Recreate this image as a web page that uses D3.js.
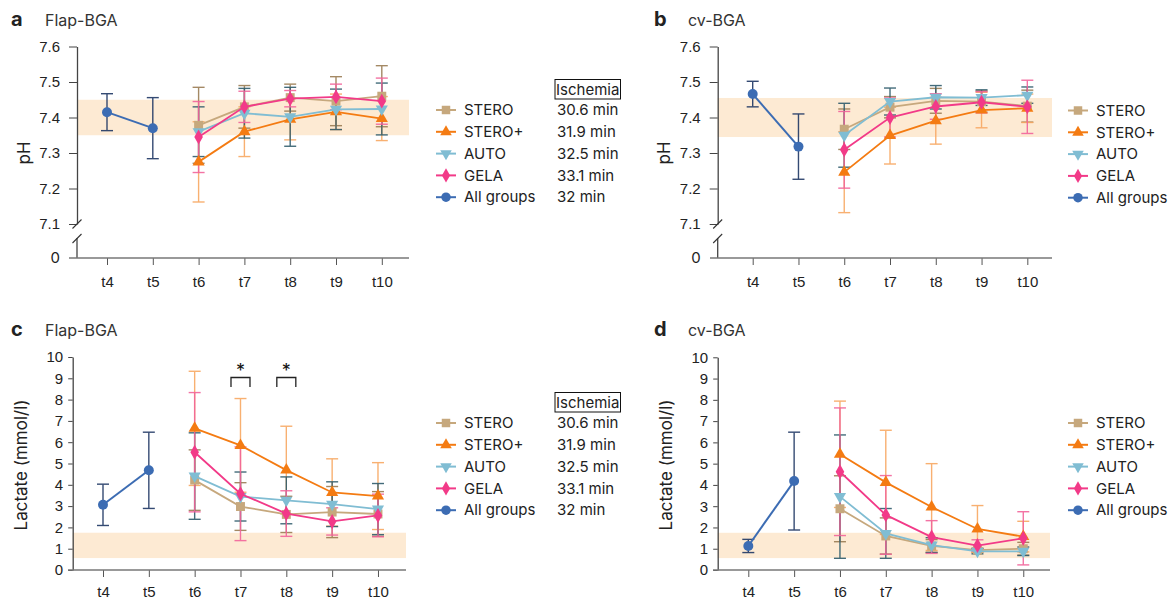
<!DOCTYPE html>
<html>
<head>
<meta charset="utf-8">
<script src="https://cdn.jsdelivr.net/npm/d3@7"></script>
<style>
  body { margin: 0; background: #fff; }
  svg { display: block; font-family: Inter, "Noto Sans", sans-serif; }
</style>
</head>
<body>
<svg id="chart" width="1172" height="604"></svg>
<script>
/* data */
var timepoints = ["t4", "t5", "t6", "t7", "t8", "t9", "t10"];
var groups = ["STERO", "STERO+", "AUTO", "GELA", "All groups"];
var ischemia = ["30.6 min", "31.9 min", "32.5 min", "33.1 min", "32 min"];

// pH, flap blood gas (rows follow groups, columns follow timepoints)
var phFlapMean = [
  [null, null, 7.378, 7.430, 7.456, 7.446, 7.460],
  [null, null, 7.275, 7.360, 7.395, 7.416, 7.397],
  [null, null, 7.360, 7.412, 7.402, 7.423, 7.424],
  [null, null, 7.345, 7.430, 7.453, 7.458, 7.446],
  [7.415, 7.370, null, null, null, null, null]
];
var phFlapSd = [
  [0, 0, 0.107, 0.060, 0.038, 0.069, 0.086],
  [0, 0, 0.113, 0.070, 0.058, 0.050, 0.062],
  [0, 0, 0.070, 0.070, 0.083, 0.057, 0.073],
  [0, 0, 0.100, 0.044, 0.023, 0.036, 0.065],
  [0.052, 0.086, 0, 0, 0, 0, 0]
];

// pH, central venous blood gas
var phCvMean = [
  [null, null, 7.367, 7.429, 7.447, 7.445, 7.432],
  [null, null, 7.246, 7.349, 7.391, 7.421, 7.426],
  [null, null, 7.350, 7.445, 7.457, 7.456, 7.463],
  [null, null, 7.309, 7.400, 7.431, 7.443, 7.430],
  [7.466, 7.318, null, null, null, null, null]
];
var phCvSd = [
  [0, 0, 0.057, 0.030, 0.035, 0.030, 0.045],
  [0, 0, 0.114, 0.080, 0.066, 0.050, 0.040],
  [0, 0, 0.090, 0.038, 0.033, 0.022, 0.023],
  [0, 0, 0.108, 0.055, 0.036, 0.030, 0.075],
  [0.036, 0.092, 0, 0, 0, 0, 0]
];

// lactate, flap
var lacFlapMean = [
  [null, null, 4.22, 2.98, 2.61, 2.72, 2.63],
  [null, null, 6.65, 5.85, 4.69, 3.64, 3.47],
  [null, null, 4.41, 3.45, 3.27, 3.09, 2.86],
  [null, null, 5.53, 3.58, 2.65, 2.28, 2.56],
  [3.06, 4.68, null, null, null, null, null]
];
var lacFlapSd = [
  [0, 0, 1.42, 1.12, 0.85, 1.20, 1.05],
  [0, 0, 2.68, 2.20, 2.06, 1.58, 1.57],
  [0, 0, 2.03, 1.15, 1.10, 1.05, 1.20],
  [0, 0, 2.80, 2.20, 1.07, 0.64, 1.00],
  [0.97, 1.79, 0, 0, 0, 0, 0]
];

// lactate, central venous
var lacCvMean = [
  [null, null, 2.88, 1.60, 1.13, 0.93, 1.00],
  [null, null, 5.44, 4.12, 2.96, 1.93, 1.57],
  [null, null, 3.45, 1.72, 1.17, 0.88, 0.88],
  [null, null, 4.62, 2.59, 1.55, 1.15, 1.49],
  [1.13, 4.18, null, null, null, null, null]
];
var lacCvSd = [
  [0, 0, 1.55, 0.85, 0.30, 0.10, 0.30],
  [0, 0, 2.50, 2.45, 2.04, 1.10, 0.72],
  [0, 0, 2.90, 1.17, 0.35, 0.12, 0.20],
  [0, 0, 3.00, 1.85, 0.77, 0.27, 1.25],
  [0.31, 2.30, 0, 0, 0, 0, 0]
];

// reference ranges (shaded)
var phBandFlap = [7.35, 7.45];
var phBandCv = [7.345, 7.455];
var lacBand = [0.56, 1.75];
var phTicks = [7.1, 7.2, 7.3, 7.4, 7.5, 7.6];
var lacTicks = [0, 1, 2, 3, 4, 5, 6, 7, 8, 9, 10];
var sigTimes = ["t7", "t8"];

/* styling */
var lineColor = ["#c6a87d", "#f47b12", "#80bdd3", "#f23a88", "#3c6cb3"];
var barColor = ["#9b7d54", "#f8a862", "#2f5c6c", "#f2649b", "#1f3764"];
var shapes = [d3.symbolSquare, d3.symbolTriangle, d3.symbolTriangle, d3.symbolDiamond, d3.symbolCircle];
var shapeSize = [80, 64, 64, 64, 78];
var shapeRot = [0, 0, 180, 0, 0];

var svg = d3.select("#chart");

function drawPanel(p) {
  var g = svg.append("g");
  var x = d3.scalePoint().domain(timepoints).range([p.x0, p.x0 + 6 * p.step]);
  var y = d3.scaleLinear().domain(p.yDomain).range([p.yBottom, p.yTop]);

  // panel letter + title
  g.append("text").attr("x", p.lx).attr("y", p.ty)
    .attr("font-size", 20).attr("font-weight", 700).attr("fill", "#222").text(p.letter);
  g.append("text").attr("x", p.tx).attr("y", p.ty)
    .attr("font-size", 16).attr("fill", "#333").text(p.title);

  // reference band
  g.append("rect")
    .attr("x", p.axisX).attr("width", p.xEnd - p.axisX)
    .attr("y", y(p.band[1])).attr("height", y(p.band[0]) - y(p.band[1]))
    .attr("fill", "#fdead3");

  // y axis
  var yax = g.append("g").attr("transform", "translate(" + p.axisX + ",0)");
  if (p.kind == "ph") {
    yax.call(d3.axisLeft(y).tickValues(d3.range(7.1, 7.6001, 0.02)).tickSize(8).tickSizeOuter(0).tickFormat(""));
    yax.call(d3.axisLeft(y).tickValues(phTicks).tickSize(8).tickSizeOuter(0).tickPadding(9).tickFormat(d3.format(".1f")));
    // broken part down to zero
    g.append("line").attr("x1", p.axisX).attr("x2", p.axisX)
      .attr("y1", p.zeroY - 20).attr("y2", p.zeroY).attr("stroke", "#444").attr("stroke-width", 1.3);
    g.append("line").attr("x1", p.axisX - 4.5).attr("x2", p.axisX + 4.5)
      .attr("y1", y(7.1) + 4.5).attr("y2", y(7.1) - 4.5).attr("stroke", "#333").attr("stroke-width", 1.1);
    g.append("line").attr("x1", p.axisX - 4.5).attr("x2", p.axisX + 4.5)
      .attr("y1", p.zeroY - 15).attr("y2", p.zeroY - 24).attr("stroke", "#333").attr("stroke-width", 1.1);
    g.append("text").attr("x", p.axisX - 17).attr("y", p.zeroY).attr("dy", "0.35em")
      .attr("text-anchor", "end").attr("font-size", 15).attr("fill", "#222").text("0");
  } else {
    yax.call(d3.axisLeft(y).tickValues(lacTicks).tickSize(4.5).tickSizeOuter(0).tickPadding(5));
  }
  yax.select(".domain").attr("stroke", "#444").attr("stroke-width", 1.3);
  yax.selectAll(".tick line").attr("stroke", "#444");
  yax.selectAll(".tick text").attr("font-size", 15).attr("fill", "#222").attr("font-family", null);

  // x axis
  var xax = g.append("g").attr("transform", "translate(0," + p.zeroY + ")")
    .call(d3.axisBottom(x).tickSize(7).tickPadding(p.xPad));
  xax.select(".domain").remove();
  xax.selectAll(".tick line").attr("stroke", "#555");
  xax.selectAll(".tick text").attr("font-size", 15).attr("fill", "#222").attr("font-family", null);
  g.append("line").attr("x1", p.xStart).attr("x2", p.xEnd)
    .attr("y1", p.zeroY).attr("y2", p.zeroY).attr("stroke", "#777").attr("stroke-width", 1.4);

  // y label
  g.append("text")
    .attr("transform", "translate(" + p.ylx + "," + p.yly + ") rotate(-90)")
    .attr("text-anchor", "middle").attr("dy", "0.35em")
    .attr("font-size", 17).attr("fill", "#222").text(p.ylabel);

  // error bars
  groups.forEach(function(name, k) {
    var pts = timepoints.map(function(t, i) { return {t: t, v: p.mean[k][i], s: p.sd[k][i]}; })
      .filter(function(d) { return d.v != null; });
    var eb = g.append("g").attr("stroke", barColor[k]).attr("stroke-width", 1.4).attr("opacity", 0.9);
    pts.forEach(function(d) {
      var cx = x(d.t), lo = y(d.v - d.s), hi = y(d.v + d.s);
      eb.append("line").attr("x1", cx).attr("x2", cx).attr("y1", lo).attr("y2", hi);
      eb.append("line").attr("x1", cx - 6).attr("x2", cx + 6).attr("y1", lo).attr("y2", lo);
      eb.append("line").attr("x1", cx - 6).attr("x2", cx + 6).attr("y1", hi).attr("y2", hi);
    });
  });

  // lines and markers
  groups.forEach(function(name, k) {
    var pts = timepoints.map(function(t, i) { return {t: t, v: p.mean[k][i]}; })
      .filter(function(d) { return d.v != null; });
    g.append("path").datum(pts)
      .attr("fill", "none").attr("stroke", lineColor[k]).attr("stroke-width", k == 4 ? 2 : 1.8)
      .attr("d", d3.line().x(function(d) { return x(d.t); }).y(function(d) { return y(d.v); }));
    g.selectAll(null).data(pts).enter().append("path")
      .attr("d", d3.symbol().type(shapes[k]).size(shapeSize[k]))
      .attr("transform", function(d) { return "translate(" + x(d.t) + "," + y(d.v) + ") rotate(" + shapeRot[k] + ")"; })
      .attr("fill", lineColor[k]);
  });

  // significance brackets
  if (p.sig) {
    p.sig.forEach(function(t) {
      var cx = x(t);
      g.append("path")
        .attr("d", "M" + (cx - 9.5) + "," + (p.sigY + 9.5) + "V" + p.sigY + "H" + (cx + 9.5) + "V" + (p.sigY + 9.5))
        .attr("fill", "none").attr("stroke", "#222").attr("stroke-width", 1.3);
      g.append("text").attr("x", cx).attr("y", p.sigY - 1)
        .attr("text-anchor", "middle").attr("font-size", 18).attr("fill", "#111").text("*");
    });
  }

  // legend
  var lg = g.append("g");
  groups.forEach(function(name, k) {
    var ry = p.legY + k * 21.8;
    lg.append("line").attr("x1", p.legX).attr("x2", p.legX + 20)
      .attr("y1", ry).attr("y2", ry).attr("stroke", lineColor[k]).attr("stroke-width", 2);
    lg.append("path").attr("d", d3.symbol().type(shapes[k]).size(shapeSize[k] * 0.9))
      .attr("transform", "translate(" + (p.legX + 10) + "," + ry + ") rotate(" + shapeRot[k] + ")")
      .attr("fill", lineColor[k]);
    lg.append("text").attr("x", p.legX + 28).attr("y", ry).attr("dy", "0.35em")
      .attr("font-size", 15).attr("fill", "#222").text(name);
    if (p.ischemia) {
      lg.append("text").attr("x", p.legX + 121).attr("y", ry).attr("dy", "0.35em")
        .attr("font-size", 15).attr("fill", "#222").text(ischemia[k]);
    }
  });
  if (p.ischemia) {
    lg.append("rect").attr("x", p.legX + 119).attr("y", p.legY - 30.5)
      .attr("width", 65.5).attr("height", 19.5)
      .attr("fill", "none").attr("stroke", "#111").attr("stroke-width", 1);
    lg.append("text").attr("x", p.legX + 151.7).attr("y", p.legY - 20.7).attr("dy", "0.35em")
      .attr("text-anchor", "middle").attr("font-size", 15).attr("fill", "#222").text("Ischemia");
  }
}

drawPanel({letter: "a", title: "Flap-BGA", lx: 11, tx: 45, ty: 26,
  kind: "ph", yDomain: [7.1, 7.6], yTop: 46.5, yBottom: 224, zeroY: 258,
  axisX: 77, xStart: 69, xEnd: 409, x0: 107, step: 45.8, xPad: 11,
  band: phBandFlap, mean: phFlapMean, sd: phFlapSd,
  ylabel: "pH", ylx: 24, yly: 153, legX: 436, legY: 110, ischemia: true});

drawPanel({letter: "b", title: "cv-BGA", lx: 654, tx: 688, ty: 26,
  kind: "ph", yDomain: [7.1, 7.6], yTop: 46.5, yBottom: 224, zeroY: 258,
  axisX: 717.7, xStart: 710, xEnd: 1052, x0: 752.7, step: 45.77, xPad: 11,
  band: phBandCv, mean: phCvMean, sd: phCvSd,
  ylabel: "pH", ylx: 664, yly: 153, legX: 1068, legY: 110.5, ischemia: false});

drawPanel({letter: "c", title: "Flap-BGA", lx: 11, tx: 45, ty: 336,
  kind: "lac", yDomain: [0, 10], yTop: 357, yBottom: 570, zeroY: 570,
  axisX: 72.7, xStart: 68, xEnd: 406, x0: 103, step: 45.83, xPad: 9,
  band: lacBand, mean: lacFlapMean, sd: lacFlapSd,
  ylabel: "Lactate (mmol/l)", ylx: 21, yly: 465, legX: 436, legY: 423, ischemia: true,
  sig: sigTimes, sigY: 377.5});

drawPanel({letter: "d", title: "cv-BGA", lx: 654, tx: 688, ty: 336,
  kind: "lac", yDomain: [0, 10], yTop: 357.3, yBottom: 570, zeroY: 570,
  axisX: 717.7, xStart: 713, xEnd: 1050, x0: 748.3, step: 45.83, xPad: 9,
  band: lacBand, mean: lacCvMean, sd: lacCvSd,
  ylabel: "Lactate (mmol/l)", ylx: 666, yly: 465, legX: 1068, legY: 423, ischemia: false});
</script>
</body>
</html>
